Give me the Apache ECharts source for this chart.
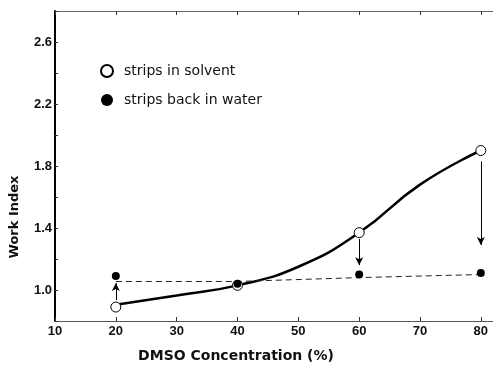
<!DOCTYPE html>
<html>
<head>
<meta charset="utf-8">
<script src="https://cdn.jsdelivr.net/npm/echarts@6/dist/echarts.min.js"></script>
<style>
  html, body { margin: 0; padding: 0; background: #fff; }
  #chart { width: 493px; height: 368px; }
</style>
</head>
<body>
<div id="chart"></div>
<script>
// DMSO concentration (%) for the measured points
var concentration = [20, 40, 60, 80];
// work index, strips in solvent (open circles)
var inSolvent = [0.89, 1.03, 1.37, 1.90];
// work index, strips back in water (filled dots)
var backInWater = [1.09, 1.04, 1.10, 1.11];
// hand drawn solid curve
var curveX = [20, 30, 40, 50, 60, 70, 80];
var curveY = [0.905, 0.965, 1.03, 1.15, 1.37, 1.68, 1.90];
// dashed guide line
var dashX = [20, 40, 60, 80];
var dashY = [1.055, 1.055, 1.08, 1.10];
// arrows: [x, from, to]
var arrows = [[20, 0.935, 1.045], [60, 1.33, 1.16], [80, 1.83, 1.29]];
var yLabels = ['1.0', '1.4', '1.8', '2.2', '2.6'];

function pairs(xs, ys) {
    var out = [];
    for (var i = 0; i < xs.length; i++) {
        out.push([xs[i], ys[i]]);
    }
    return out;
}

var numFont = 'Liberation Sans Narrow, Liberation Sans, Arial, sans-serif';
var txtFont = 'DejaVu Sans, sans-serif';

var arrowData = arrows.map(function (a) {
    return [{coord: [a[0], a[1]]}, {coord: [a[0], a[2]]}];
});

var myChart = echarts.init(document.getElementById('chart'));
var option = {
    animation: false,
    backgroundColor: '#fff',
    grid: {left: 49, right: 0, top: 11, bottom: 46},
    legend: {
        orient: 'vertical',
        left: 95,
        top: 59,
        itemGap: 15,
        itemWidth: 12,
        itemHeight: 12,
        data: ['strips in solvent', 'strips back in water'],
        textStyle: {fontFamily: txtFont, fontSize: 14, color: '#111', padding: [0, 0, 0, 6]}
    },
    xAxis: [{
        type: 'value',
        min: 10,
        max: 82,
        interval: 10,
        name: 'DMSO Concentration (%)',
        nameLocation: 'middle',
        nameGap: 28,
        nameTextStyle: {fontFamily: txtFont, fontSize: 14, fontWeight: 'bold', color: '#111', padding: [0, 76, 0, 0]},
        axisLine: {lineStyle: {color: '#555', width: 1}},
        axisTick: {inside: true, length: 4, lineStyle: {color: '#333'}},
        axisLabel: {
            margin: 4,
            fontFamily: numFont,
            fontWeight: 'bold',
            fontSize: 13,
            color: '#111',
            showMaxLabel: false,
            formatter: function (v) { return v % 10 === 0 ? String(v) : ''; }
        },
        splitLine: {show: false}
    }, {
        type: 'value',
        position: 'top',
        min: 10,
        max: 82,
        interval: 10,
        axisLine: {show: true, lineStyle: {color: '#666', width: 1}},
        axisTick: {show: true, inside: true, length: 4, lineStyle: {color: '#333'}},
        axisLabel: {show: false},
        splitLine: {show: false}
    }],
    yAxis: {
        type: 'value',
        min: 0.8,
        max: 2.8,
        interval: 0.2,
        name: 'Work Index',
        nameLocation: 'middle',
        nameGap: 34,
        nameTextStyle: {fontFamily: txtFont, fontSize: 13, fontWeight: 'bold', color: '#111', padding: [0, 102, 0, 0]},
        axisLine: {show: true, lineStyle: {color: '#000', width: 2}},
        axisTick: {inside: true, length: 3, lineStyle: {color: '#333'}},
        axisLabel: {
            margin: 3,
            fontFamily: numFont,
            fontWeight: 'bold',
            fontSize: 13,
            color: '#111',
            formatter: function (v) {
                var s = v.toFixed(1);
                return yLabels.indexOf(s) >= 0 ? s : '';
            }
        },
        splitLine: {show: false}
    },
    series: [{
        name: 'curve',
        type: 'line',
        smooth: 0.5,
        data: pairs(curveX, curveY),
        symbol: 'none',
        lineStyle: {color: '#000', width: 2.5},
        silent: true,
        z: 2
    }, {
        name: 'dashed',
        type: 'line',
        data: pairs(dashX, dashY),
        symbol: 'none',
        lineStyle: {color: '#222', width: 1, type: [6, 4]},
        silent: true,
        markLine: {
            silent: true,
            symbol: ['none', 'arrow'],
            symbolSize: [6, 8],
            label: {show: false},
            lineStyle: {color: '#000', width: 1, type: 'solid'},
            data: arrowData
        },
        z: 2
    }, {
        name: 'strips in solvent',
        type: 'scatter',
        data: pairs(concentration, inSolvent),
        symbol: 'circle',
        symbolSize: 10,
        itemStyle: {color: '#fff', borderColor: '#000', borderWidth: 1, opacity: 1},
        z: 4
    }, {
        name: 'strips back in water',
        type: 'scatter',
        data: pairs(concentration, backInWater),
        symbol: 'circle',
        symbolSize: 8,
        itemStyle: {color: '#000', opacity: 1},
        z: 5
    }]
};
myChart.setOption(option);
</script>
</body>
</html>
